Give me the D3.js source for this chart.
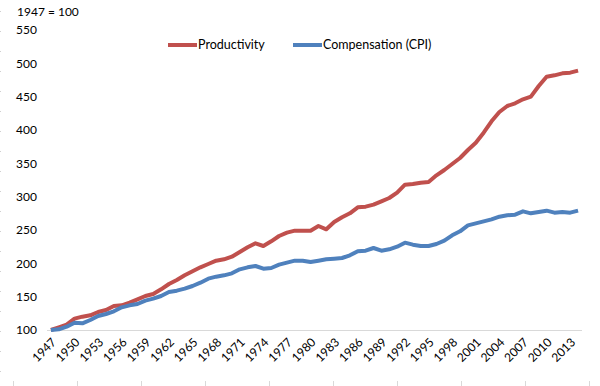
<!DOCTYPE html>
<html>
<head>
<meta charset="utf-8">
<script src="https://cdn.jsdelivr.net/npm/d3@7"></script>
<style>
  body { margin: 0; background: #fff; }
  svg { display: block; font-family: Lato, "Open Sans", sans-serif; }
</style>
</head>
<body>
<script>
const width = 600;
const height = 386;

const years = d3.range(1947, 2015);
const tickYears = d3.range(1947, 2015, 3);
const yTicks = [100, 150, 200, 250, 300, 350, 400, 450, 500, 550];

const productivity = [
  100, 104, 108, 117, 120, 122, 127, 130, 136, 137,
  141, 146, 151, 154, 161, 169, 175, 182, 188, 194,
  199, 204, 206, 210, 217, 224, 230, 226, 233, 241,
  246, 249, 249, 249, 256, 251, 262, 269, 275, 284,
  285, 288, 293, 298, 306, 318, 319, 321, 322, 332,
  340, 349, 358, 370, 381, 396, 413, 427, 436, 440,
  446, 450, 466, 480, 482, 485, 486, 489
];
const compensation = [
  100, 101, 105, 111, 110, 115, 121, 124, 128, 134,
  137, 139, 144, 147, 151, 157, 159, 162, 166, 171,
  177, 180, 182, 185, 191, 194, 196, 192, 193, 198,
  201, 204, 204, 202, 204, 206, 207, 208, 212, 218,
  219, 223, 219, 221, 225, 231, 228, 226, 226, 229,
  234, 242, 248, 257, 260, 263, 266, 270, 272, 273,
  278, 275, 277, 279, 276, 277, 276, 279
];

const series = [
  { name: 'Productivity', values: productivity, color: '#C0504D' },
  { name: 'Compensation (CPI)', values: compensation, color: '#4F81BD' }
];

const x = d3.scaleBand().domain(years).range([47, 582]);
const y = d3.scaleLinear().domain([100, 550]).range([330, 30]);
const cx = yr => x(yr) + x.bandwidth() / 2;

const svg = d3.select('body').append('svg')
  .attr('width', width)
  .attr('height', height);

// faint cropped-edge marks
svg.append('g').selectAll('line')
  .data(d3.range(13, width, 64))
  .join('line')
  .attr('x1', d => d + 0.5).attr('x2', d => d + 0.5)
  .attr('y1', 381).attr('y2', 386)
  .attr('stroke', '#d9d9d9');
svg.append('g').selectAll('rect')
  .data(d3.range(11, 386, 20))
  .join('rect')
  .attr('x', 0).attr('y', d => d)
  .attr('width', 1).attr('height', 1)
  .attr('fill', '#d0d0d0');

svg.append('text')
  .attr('x', 17).attr('y', 16)
  .attr('font-size', 12)
  .attr('fill', '#000')
  .text('1947 = 100');

// y labels
svg.append('g').selectAll('text')
  .data(yTicks)
  .join('text')
  .attr('x', 37)
  .attr('y', d => y(d))
  .attr('dy', '0.35em')
  .attr('text-anchor', 'end')
  .attr('font-size', 12)
  .text(d => d);

// baseline
svg.append('line')
  .attr('x1', x.range()[0]).attr('x2', x.range()[1])
  .attr('y1', y(100) + 0.5).attr('y2', y(100) + 0.5)
  .attr('stroke', '#d9d9d9');

// x labels
svg.append('g').selectAll('text')
  .data(tickYears)
  .join('text')
  .attr('transform', d => `translate(${cx(d) + 3}, ${y(100) + 10}) rotate(-45)`)
  .attr('text-anchor', 'end')
  .attr('dy', '0.35em')
  .attr('font-size', 12)
  .text(d => d);

const line = d3.line()
  .x((d, i) => cx(years[i]))
  .y(d => y(d));

svg.append('g').selectAll('path')
  .data(series)
  .join('path')
  .attr('d', d => line(d.values))
  .attr('fill', 'none')
  .attr('stroke', d => d.color)
  .attr('stroke-width', 4)
  .attr('stroke-linejoin', 'round');

// legend
const legendX = [168, 293];
const legend = svg.append('g').selectAll('g')
  .data(series)
  .join('g')
  .attr('transform', (d, i) => `translate(${legendX[i]}, 45)`);
legend.append('line')
  .attr('x1', 0).attr('x2', 29)
  .attr('stroke', d => d.color)
  .attr('stroke-width', 4);
legend.append('text')
  .attr('x', 30)
  .attr('dy', '0.35em')
  .attr('font-size', 12.5)
  .text(d => d.name);
</script>
</body>
</html>
